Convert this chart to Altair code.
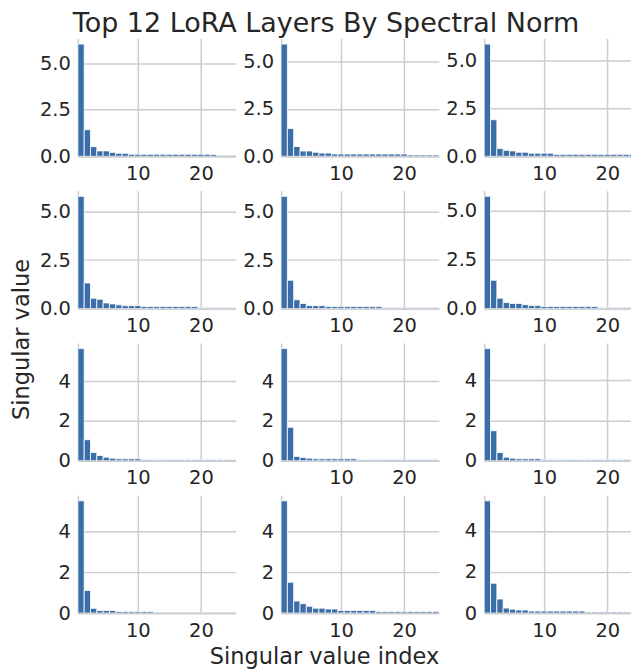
import altair as alt
import pandas as pd

# Singular value index (1..25)
idx = list(range(1, 26))

# Singular values per layer (row-major, 4 rows x 3 columns)
p1 = [6.04, 1.43, 0.52, 0.29, 0.29, 0.21, 0.16, 0.16, 0.11, 0.11, 0.11, 0.11, 0.11,
      0.11, 0.11, 0.11, 0.11, 0.11, 0.11, 0.11, 0.11, 0.10, 0.05, 0.05, 0.05]
p2 = [5.93, 1.47, 0.52, 0.28, 0.28, 0.21, 0.17, 0.17, 0.12, 0.12, 0.12, 0.12, 0.12,
      0.12, 0.12, 0.12, 0.12, 0.12, 0.12, 0.12, 0.07, 0.07, 0.07, 0.07, 0.07]
p3 = [5.83, 1.90, 0.40, 0.31, 0.28, 0.21, 0.21, 0.16, 0.16, 0.16, 0.16, 0.10, 0.10,
      0.10, 0.10, 0.10, 0.10, 0.10, 0.10, 0.10, 0.10, 0.10, 0.10, 0.10, 0.05]
p4 = [5.79, 1.32, 0.53, 0.48, 0.29, 0.24, 0.19, 0.15, 0.15, 0.15, 0.10, 0.10, 0.10,
      0.10, 0.10, 0.10, 0.10, 0.10, 0.10, 0.05, 0.05, 0.05, 0.05, 0.05, 0.05]
p5 = [5.79, 1.46, 0.45, 0.26, 0.15, 0.15, 0.15, 0.10, 0.10, 0.10, 0.10, 0.10, 0.10,
      0.10, 0.10, 0.10, 0.05, 0.05, 0.05, 0.05, 0.05, 0.05, 0.05, 0.05, 0.05]
p6 = [5.75, 1.45, 0.53, 0.31, 0.26, 0.26, 0.20, 0.15, 0.15, 0.10, 0.10, 0.10, 0.10,
      0.10, 0.10, 0.10, 0.10, 0.10, 0.05, 0.05, 0.05, 0.05, 0.05, 0.05, 0.05]
p7 = [5.63, 1.06, 0.42, 0.27, 0.18, 0.13, 0.10, 0.10, 0.10, 0.10, 0.05, 0.05, 0.05,
      0.05, 0.05, 0.05, 0.05, 0.05, 0.05, 0.05, 0.05, 0.05, 0.05, 0.05, 0.05]
p8 = [5.63, 1.68, 0.22, 0.17, 0.13, 0.10, 0.10, 0.10, 0.10, 0.10, 0.10, 0.10, 0.05,
      0.05, 0.05, 0.05, 0.05, 0.05, 0.05, 0.05, 0.05, 0.05, 0.05, 0.05, 0.05]
p9 = [5.56, 1.49, 0.41, 0.18, 0.13, 0.10, 0.10, 0.10, 0.10, 0.05, 0.05, 0.05, 0.05,
      0.05, 0.05, 0.05, 0.05, 0.05, 0.05, 0.05, 0.05, 0.05, 0.05, 0.05, 0.05]
p10 = [5.50, 1.11, 0.23, 0.13, 0.13, 0.13, 0.08, 0.08, 0.08, 0.08, 0.08, 0.08, 0.04,
       0.04, 0.04, 0.04, 0.04, 0.04, 0.04, 0.04, 0.04, 0.04, 0.04, 0.04, 0.04]
p11 = [5.50, 1.51, 0.59, 0.46, 0.33, 0.24, 0.24, 0.20, 0.20, 0.13, 0.13, 0.13, 0.13,
       0.13, 0.13, 0.08, 0.08, 0.08, 0.08, 0.08, 0.08, 0.08, 0.08, 0.08, 0.08]
p12 = [5.45, 1.45, 0.68, 0.24, 0.19, 0.15, 0.15, 0.10, 0.10, 0.10, 0.10, 0.10, 0.10,
       0.10, 0.10, 0.10, 0.05, 0.05, 0.05, 0.05, 0.05, 0.05, 0.05, 0.05, 0.05]

panels = [p1, p2, p3, p4, p5, p6, p7, p8, p9, p10, p11, p12]

# Tick labels
x_ticks = [10, 20]
y_ticks_top = [0, 2.5, 5.0]
y_ticks_bottom = [0, 2, 4]

title_text = "Top 12 LoRA Layers By Spectral Norm"
x_title = "Singular value index"
y_title = "Singular value"

FONT = "DejaVu Sans"
TXT = "#262626"
BAR = "#3b6ea8"
GRID = "#cccccc"

PW = 158          # panel width (px) for full x range 0.5..25.5
PX = PW / 25.0    # px per index unit
PW3 = 147         # right column is cut by the page edge


def panel(vals, r, c):
    df = pd.DataFrame({"idx": idx, "val": vals})
    ymax = max(vals) * 1.05
    if r < 2:
        yvals, yfmt = y_ticks_top, ".1f"
    else:
        yvals, yfmt = y_ticks_bottom, "d"

    w = PW3 if c == 2 else PW
    xmax = 0.5 + w / PX

    yargs = dict(values=yvals, format=yfmt, title=None)
    if r == 2 and c == 0:
        yargs.update(title=y_title, titleX=-56, titleY=-4, titleAngle=270,
                     titleAlign="center", titleBaseline="middle")
    xargs = dict(values=x_ticks, format="d", title=None)
    if r == 3 and c == 1:
        xargs.update(title=x_title, titleX=43, titleY=51,
                     titleAlign="center", titleBaseline="alphabetic")

    return (
        alt.Chart(df)
        .transform_calculate(x0="datum.idx - 0.5", x1="datum.idx + 0.5")
        .mark_bar(color=BAR, stroke="white", strokeWidth=0.8, clip=True)
        .encode(
            x=alt.X("x0:Q", scale=alt.Scale(domain=[0.5, xmax], nice=False, zero=False),
                    axis=alt.Axis(**xargs)),
            x2="x1:Q",
            y=alt.Y("val:Q", scale=alt.Scale(domain=[0, ymax], nice=False),
                    axis=alt.Axis(**yargs)),
            y2=alt.datum(0),
        )
        .properties(width=w, height=118)
    )


charts = [panel(panels[i], i // 3, i % 3) for i in range(12)]

chart = (
    alt.concat(*charts, columns=3, spacing={"row": 34.5, "column": 45.5}, bounds="flush")
    .properties(
        title=alt.TitleParams(title_text, fontSize=27, font=FONT, color=TXT,
                              fontWeight="normal", anchor="middle", offset=0, dx=5),
        padding={"left": 2, "top": 2, "right": 0, "bottom": 0},
    )
    .configure_view(stroke=None)
    .configure_axis(
        labelFont=FONT, labelFontSize=19.5, labelColor=TXT,
        titleFont=FONT, titleFontSize=22.5, titleColor=TXT, titleFontWeight="normal",
        gridColor=GRID, gridWidth=1.5, domainColor=GRID, domainWidth=1.5,
        ticks=False, tickSize=0, labelPadding=7.5,
    )
    .configure_axisX(labelPadding=8)
)

chart.save("out.html", embed_options={"renderer": "svg", "actions": False})
